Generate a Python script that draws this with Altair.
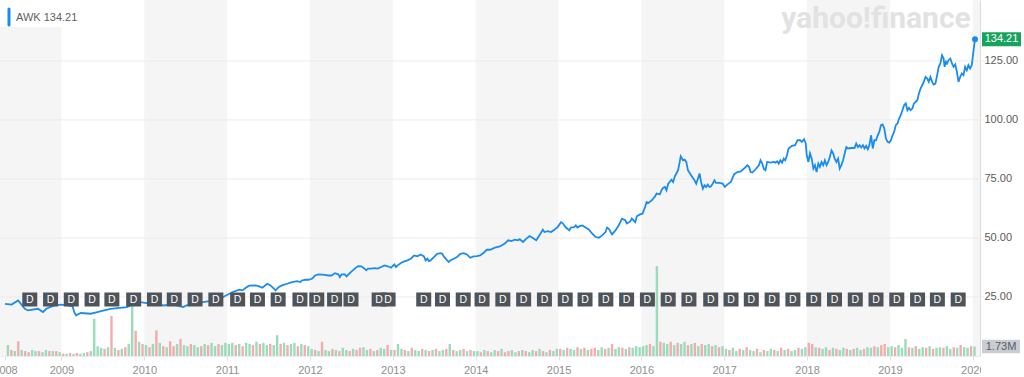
import altair as alt
import pandas as pd

# ---------------- data ----------------
# AWK weekly close, time as decimal year
price_t = [
 2008.319, 2008.399, 2008.478, 2008.558, 2008.597, 2008.717, 2008.777, 2008.817, 2008.916, 2008.996,
 2009.075, 2009.135, 2009.155, 2009.176, 2009.235, 2009.355, 2009.434, 2009.514, 2009.594, 2009.673,
 2009.792, 2009.872, 2009.952, 2010.031, 2010.150, 2010.231, 2010.311, 2010.389, 2010.469, 2010.509,
 2010.589, 2010.708, 2010.828, 2010.947, 2011.067, 2011.147,
 2011.186, 2011.226, 2011.266, 2011.345, 2011.386, 2011.425, 2011.485, 2011.524, 2011.565, 2011.584,
 2011.604, 2011.625, 2011.664, 2011.724, 2011.784, 2011.843, 2011.883, 2011.903, 2011.943, 2011.983,
 2012.023, 2012.062, 2012.103, 2012.181, 2012.222, 2012.262, 2012.301, 2012.342, 2012.361, 2012.381,
 2012.420, 2012.441, 2012.480, 2012.540, 2012.581, 2012.620, 2012.659, 2012.680, 2012.700, 2012.739,
 2012.779, 2012.819, 2012.859, 2012.898, 2012.939, 2012.978, 2013.018, 2013.038, 2013.058, 2013.098,
 2013.137, 2013.178, 2013.217, 2013.257, 2013.297, 2013.337, 2013.376, 2013.396, 2013.417, 2013.436,
 2013.456, 2013.496, 2013.536, 2013.576, 2013.596, 2013.615, 2013.656, 2013.675, 2013.695, 2013.735,
 2013.775, 2013.815, 2013.854, 2013.895, 2013.934, 2013.974, 2014.014, 2014.054, 2014.093, 2014.134,
 2014.173, 2014.233, 2014.293, 2014.352, 2014.392, 2014.432, 2014.472, 2014.511, 2014.531, 2014.571,
 2014.612, 2014.651, 2014.690, 2014.731, 2014.770, 2014.810, 2014.830, 2014.870, 2014.910, 2014.950,
 2014.989, 2015.030, 2015.049, 2015.089, 2015.108, 2015.129, 2015.149, 2015.189, 2015.209, 2015.228,
 2015.248, 2015.288, 2015.328, 2015.368, 2015.407, 2015.448, 2015.487, 2015.527, 2015.567, 2015.586,
 2015.607, 2015.646, 2015.687, 2015.726, 2015.766, 2015.806, 2015.825, 2015.866, 2015.885, 2015.926,
 2015.945, 2015.985, 2016.013, 2016.045, 2016.064, 2016.085, 2016.124, 2016.144, 2016.165, 2016.184,
 2016.224, 2016.243, 2016.264, 2016.284, 2016.303, 2016.324, 2016.363, 2016.383, 2016.404, 2016.423,
 2016.443, 2016.463, 2016.475, 2016.503, 2016.523, 2016.542, 2016.562, 2016.602, 2016.642, 2016.662,
 2016.682, 2016.702, 2016.721, 2016.742, 2016.762, 2016.781, 2016.801, 2016.822, 2016.841, 2016.861,
 2016.882, 2016.901, 2016.941, 2016.981, 2017.008, 2017.040, 2017.080,
 2017.120, 2017.160, 2017.199, 2017.240, 2017.279, 2017.300, 2017.319, 2017.339, 2017.379, 2017.419,
 2017.438, 2017.459, 2017.479, 2017.498, 2017.518, 2017.558, 2017.598, 2017.617, 2017.638, 2017.658,
 2017.677, 2017.698, 2017.718, 2017.737, 2017.757, 2017.777, 2017.817, 2017.856, 2017.885, 2017.916,
 2017.936, 2017.964, 2017.984, 2017.996, 2018.016, 2018.035, 2018.056, 2018.076, 2018.095, 2018.115,
 2018.136, 2018.155, 2018.175, 2018.196, 2018.215, 2018.235, 2018.255, 2018.275, 2018.295, 2018.315,
 2018.334, 2018.354, 2018.375, 2018.394, 2018.414, 2018.435, 2018.454, 2018.474, 2018.494, 2018.534,
 2018.573, 2018.593, 2018.614, 2018.633, 2018.653, 2018.674, 2018.693, 2018.713, 2018.733, 2018.752,
 2018.773, 2018.793, 2018.812, 2018.832, 2018.853, 2018.872, 2018.892, 2018.912, 2018.932, 2018.952,
 2018.972, 2018.991, 2019.012, 2019.032, 2019.051, 2019.071, 2019.092, 2019.111, 2019.131, 2019.151,
 2019.171, 2019.191, 2019.211, 2019.230, 2019.250, 2019.271, 2019.290, 2019.310, 2019.331, 2019.350,
 2019.370, 2019.390, 2019.409, 2019.430, 2019.450, 2019.469, 2019.489, 2019.510, 2019.529, 2019.549,
 2019.570, 2019.589, 2019.609, 2019.629, 2019.648, 2019.660, 2019.677, 2019.689, 2019.708, 2019.729,
 2019.749, 2019.768, 2019.788, 2019.808, 2019.828, 2019.848, 2019.868, 2019.888, 2019.908, 2019.928,
 2019.947, 2019.967, 2019.988, 2020.007, 2020.027,
]
price_p = [
 22.1, 21.8, 23.5, 20.0, 19.3, 20.0, 18.6, 20.0, 21.4, 21.8,
 21.4, 21.0, 18.6, 17.2, 18.2, 17.9, 18.6, 19.3, 20.0, 20.3,
 20.7, 22.1, 22.8, 22.4, 22.1, 21.4, 21.8, 21.4, 20.7, 21.4,
 21.8, 22.8, 23.5, 24.9, 27.1, 28.1,
 27.8, 28.9, 29.8, 29.9, 29.5, 28.9, 30.6, 29.9, 28.5, 27.8,
 28.5, 29.2, 29.9, 30.6, 31.3, 31.7, 31.3, 32.0, 32.3, 32.3,
 32.7, 34.1, 34.6, 34.4, 34.1, 34.1, 35.1, 34.6, 33.4, 34.6,
 34.6, 33.7, 35.1, 37.0, 38.1, 38.0, 37.0, 36.3, 37.0, 37.0,
 37.2, 37.0, 37.7, 38.4, 38.0, 37.4, 38.8, 37.7, 38.4, 39.4,
 40.1, 40.5, 41.2, 42.6, 42.2, 43.0, 42.2, 40.5, 41.2, 40.2,
 40.5, 41.9, 43.3, 43.6, 43.3, 42.2, 40.5, 39.8, 40.5, 41.2,
 41.9, 43.3, 43.6, 43.0, 41.6, 42.2, 42.3, 42.6, 43.6, 45.0,
 45.0, 45.9, 46.4, 47.6, 49.0, 48.7, 49.3, 49.0, 49.5, 48.3,
 49.7, 50.8, 50.0, 49.0, 51.1, 53.5, 52.5, 52.9, 52.5, 53.5,
 54.6, 56.7, 56.3, 54.4, 53.9, 53.2, 54.4, 54.6, 55.3, 54.4,
 54.9, 55.3, 54.4, 53.5, 51.8, 50.4, 50.1, 51.1, 52.5, 54.4,
 53.9, 51.5, 53.2, 55.3, 58.2, 57.5, 56.1, 57.0, 58.2, 56.7,
 59.2, 60.0, 60.3, 63.1, 65.2, 64.8, 65.9, 66.7, 67.6, 68.8,
 68.5, 70.2, 71.3, 71.6, 70.2, 73.0, 74.7, 73.7, 76.1, 77.3,
 78.7, 82.2, 84.6, 82.9, 83.2, 82.2, 78.7, 76.5, 74.4, 73.0,
 75.1, 77.3, 73.7, 70.9, 72.3, 71.6, 72.6, 71.6, 71.9, 73.0,
 74.4, 73.3, 73.3, 73.0, 71.6, 72.7, 73.7,
 77.0, 77.9, 78.2, 79.4, 80.8, 80.1, 77.9, 77.7, 79.1, 80.8,
 82.9, 81.5, 79.1, 78.7, 82.2, 81.9, 82.2, 81.9, 82.5, 81.5,
 82.9, 81.9, 83.6, 82.9, 85.0, 87.9, 89.0, 89.3, 91.4, 91.4,
 90.7, 91.8, 90.0, 85.0, 82.2, 85.8, 83.6, 79.4, 80.8, 77.9,
 81.5, 80.1, 82.2, 80.8, 82.9, 80.8, 82.2, 84.3, 87.1, 85.8,
 83.6, 82.2, 83.6, 79.4, 80.8, 82.9, 85.8, 88.5, 87.9, 88.1,
 88.1, 90.0, 88.5, 89.3, 88.3, 89.3, 87.9, 89.0, 87.6, 89.3,
 93.5, 87.9, 91.4, 91.4, 93.5, 94.9, 97.8, 98.1, 96.4, 92.1,
 90.7, 90.4, 91.4, 93.5, 94.9, 97.8, 98.5, 100.6, 102.0, 104.1,
 106.2, 107.0, 104.1, 105.1, 104.1, 104.8, 107.0, 107.6, 108.4, 111.2,
 113.3, 114.7, 116.1, 118.2, 117.5, 116.1, 118.2, 116.1, 115.0, 115.4,
 119.0, 122.5, 123.9, 127.4, 126.0, 122.5, 124.6, 123.9, 125.3, 126.0,
 123.9, 122.5, 123.5, 120.5, 116.1, 118.2, 119.7, 119.0, 122.5, 121.0,
 123.2, 121.8, 123.2, 128.8, 134.21,
]

# dividend ("D") event dates, decimal year
div_t = [
 2008.618, 2008.869, 2009.119, 2009.370, 2009.609, 2009.872, 2010.123, 2010.362, 2010.613, 2010.864,
 2011.127, 2011.366, 2011.616, 2011.879, 2012.082, 2012.297, 2012.495, 2012.835, 2012.943, 2013.373,
 2013.600, 2013.850, 2014.077, 2014.328, 2014.579, 2014.830, 2015.081, 2015.320, 2015.571, 2015.822,
 2016.073, 2016.324, 2016.574, 2016.837, 2017.082, 2017.327, 2017.578, 2017.829, 2018.080, 2018.331,
 2018.582, 2018.832, 2019.083, 2019.334, 2019.573, 2019.824,
]

# half-month volume (millions) and up(1)/down(0) flag, by year
vol_by_year = {
 2008: [2.0, 1.1, 0.9, 2.7, 1.1, 0.9, 0.7, 1.1, 0.9, 0.9, 0.7, 1.1, 0.9, 0.9, 0.9, 0.7],
 2009: [0.4, 0.4, 0.55, 0.4, 0.55, 0.4, 0.55, 0.7, 0.9, 6.8, 1.8, 1.5, 1.3, 1.6, 7.3, 1.5,
        1.1, 1.3, 1.6, 2.2, 9.1, 4.6, 2.6, 2.2],
 2010: [2.0, 1.6, 2.2, 4.7, 2.4, 1.8, 1.6, 2.7, 1.8, 2.2, 3.1, 2.0, 1.8, 2.2, 2.0, 1.6,
        1.8, 2.2, 2.0, 2.4, 1.8, 2.2, 2.0, 2.4],
 2011: [2.2, 2.4, 2.0, 2.2, 1.8, 2.4, 2.2, 2.0, 2.6, 2.2, 2.4, 2.0, 2.2, 2.0, 3.8, 2.2,
        2.4, 2.0, 2.2, 2.4, 1.8, 2.2, 2.0, 1.8],
 2012: [1.3, 1.1, 0.9, 2.6, 1.1, 0.9, 1.3, 1.1, 0.9, 1.5, 1.1, 0.9, 1.3, 1.1, 1.5, 1.6,
        1.1, 1.3, 0.9, 1.1, 1.5, 1.3, 2.0, 1.1],
 2013: [1.1, 2.2, 1.3, 1.1, 0.9, 1.5, 1.1, 0.9, 1.3, 1.1, 0.9, 1.1, 1.3, 0.9, 1.1, 1.3,
        2.2, 1.1, 0.9, 1.1, 1.3, 0.9, 1.1, 0.9],
 2014: [0.9, 0.7, 1.1, 0.9, 0.7, 1.1, 0.9, 1.3, 0.7, 0.9, 1.1, 0.7, 0.9, 1.1, 0.9, 0.7,
        1.1, 0.9, 1.3, 0.9, 0.7, 1.1, 0.9, 1.3],
 2015: [1.3, 1.1, 1.5, 1.3, 1.1, 1.6, 1.3, 1.5, 1.1, 1.3, 1.5, 1.1, 1.6, 1.3, 1.5, 2.2,
        1.3, 1.6, 1.5, 1.3, 1.6, 1.5, 1.8, 1.6],
 2016: [1.8, 2.0, 2.2, 1.8, 16.4, 2.6, 2.4, 2.2, 2.6, 2.0, 2.4, 2.2, 2.6, 2.0, 2.2, 2.4,
        1.8, 2.2, 2.0, 2.2, 1.8, 2.0, 1.6, 1.8],
 2017: [1.3, 1.1, 1.5, 0.9, 1.3, 1.1, 1.6, 1.1, 0.9, 1.3, 0.7, 1.1, 0.9, 1.3, 1.1, 0.9,
        1.5, 1.1, 1.3, 0.9, 1.1, 1.5, 1.3, 1.6],
 2018: [2.4, 2.2, 1.6, 1.5, 1.3, 1.6, 1.1, 1.5, 1.3, 1.1, 1.5, 1.3, 1.1, 1.3, 1.5, 1.1,
        1.3, 1.6, 1.5, 1.8, 1.6, 2.0, 2.2, 1.6],
 2019: [1.8, 1.6, 2.0, 1.5, 3.1, 1.6, 1.5, 1.8, 1.3, 1.6, 1.5, 1.8, 1.3, 1.5, 1.6, 1.5,
        1.8, 1.3, 1.6, 1.5, 2.0, 1.6, 1.5, 1.8],
 2020: [1.73],
}
up_by_year = {
 2008: [1, 0, 1, 0, 1, 0, 0, 1, 1, 0, 1, 1, 0, 1, 0, 1],
 2009: [0, 1, 0, 1, 0, 1, 1, 0, 1, 1, 1, 1, 0, 1, 0, 1, 0, 1, 0, 1, 1, 0, 1, 0],
 2010: [1, 0, 1, 0, 1, 0, 1, 0, 0, 1, 0, 1, 1, 0, 1, 1, 0, 1, 0, 1, 1, 0, 1, 1],
 2011: [1, 1, 0, 1, 0, 1, 1, 0, 1, 0, 1, 1, 0, 1, 1, 0, 1, 0, 1, 1, 0, 1, 0, 1],
 2012: [1, 0, 1, 0, 1, 1, 0, 1, 0, 1, 1, 0, 1, 0, 0, 1, 1, 0, 1, 0, 1, 1, 0, 1],
 2013: [0, 1, 1, 0, 1, 0, 1, 1, 0, 1, 0, 1, 0, 1, 1, 0, 1, 0, 1, 1, 0, 1, 0, 1],
 2014: [1, 0, 1, 0, 1, 1, 0, 1, 0, 0, 1, 1, 0, 1, 0, 1, 1, 0, 1, 0, 1, 0, 1, 1],
 2015: [0, 1, 0, 1, 1, 0, 1, 0, 1, 0, 0, 1, 1, 0, 1, 0, 1, 1, 0, 1, 0, 1, 1, 1],
 2016: [1, 1, 0, 1, 1, 0, 1, 1, 0, 1, 0, 1, 1, 0, 1, 0, 1, 0, 1, 1, 0, 1, 0, 1],
 2017: [1, 0, 1, 1, 0, 1, 0, 1, 1, 0, 1, 0, 1, 1, 0, 1, 0, 1, 0, 1, 1, 0, 1, 1],
 2018: [0, 0, 1, 0, 1, 1, 0, 1, 0, 1, 1, 0, 1, 0, 1, 1, 0, 1, 1, 0, 1, 0, 0, 1],
 2019: [1, 0, 1, 1, 1, 0, 1, 0, 1, 1, 0, 1, 0, 1, 1, 0, 1, 1, 0, 1, 0, 1, 1, 0],
 2020: [1],
}
vol_first_slot = {2008: 8}   # the 2008 series starts in the 9th half-month

y_ticks = [25, 50, 75, 100, 125]
year_ticks = [2008.319, 2009, 2010, 2011, 2012, 2013, 2014, 2015, 2016, 2017, 2018, 2019, 2020]
band_start = [2008, 2010, 2012, 2014, 2016, 2018, 2020]
band_end = [2009, 2011, 2013, 2015, 2017, 2019, 2021]

ticker = "AWK"
last_price = 134.21
last_vol = 1.73

X_DOMAIN = [2008.319, 2020.027]
Y_DOMAIN = [0, 150.8]
V_DOMAIN = [0, 65]

W, H = 980, 356
FONT = "Helvetica Neue, Helvetica, Arial, Liberation Sans, sans-serif"
BLUE = "#1a8cf0"

# ---------------- tables ----------------
price_df = pd.DataFrame({"t": price_t, "p": price_p})
div_df = pd.DataFrame({"t": div_t, "lbl": ["D"] * len(div_t)})
bands_df = pd.DataFrame({"s": band_start, "e": band_end})
grid_df = pd.DataFrame({"p": y_ticks})

vt, vv, vu = [], [], []
for y in sorted(vol_by_year):
    k0 = vol_first_slot.get(y, 0)
    for i, (v, u) in enumerate(zip(vol_by_year[y], up_by_year[y])):
        vt.append(y + (k0 + i + 0.5) / 24.0)
        vv.append(v)
        vu.append("up" if u else "down")
vol_df = pd.DataFrame({"t": vt, "v": vv, "dir": vu})

last_df = pd.DataFrame({"t": [price_t[-1]], "p": [last_price], "v": [last_vol],
                        "ptxt": [f"{last_price:.2f}"], "vtxt": [f"{last_vol:.2f}M"],
                        "legend": [f"{ticker} {last_price:.2f}"],
                        "wm": ["yahoo!finance"]})

xs = alt.Scale(domain=X_DOMAIN, nice=False, zero=False)
ys = alt.Scale(domain=Y_DOMAIN, nice=False, zero=False)
vs = alt.Scale(domain=V_DOMAIN, nice=False, zero=False)

X_AXIS = alt.Axis(
    title=None, values=year_ticks, labelExpr="'' + floor(datum.value)",
    labelFlush=False, labelOverlap=False, labelFont=FONT, labelFontSize=11,
    labelColor="#8f8f8f", labelPadding=4, tickColor="#e0e0e0", tickSize=4,
    domainColor="#ececec", grid=False,
)
Y_AXIS = alt.Axis(
    title=None, orient="right", values=y_ticks, format=".2f", grid=False,
    labelFont=FONT, labelFontSize=11, labelColor="#5b5b5b", labelPadding=4,
    ticks=False, domainColor="#dcdcdc",
)

def X(field):
    return alt.X(field, type="quantitative", scale=xs, axis=X_AXIS)

bands = alt.Chart(bands_df).mark_rect(color="#f5f5f5", clip=True).encode(
    x=X("s"), x2="e", y=alt.value(0), y2=alt.value(H))

grid = alt.Chart(grid_df).mark_rule(color="#ececec", strokeWidth=1).encode(
    y=alt.Y("p:Q", scale=ys, axis=None), x=alt.value(0), x2=alt.value(W + 4))

vol = alt.Chart(vol_df).mark_bar(width=2.4, opacity=0.9).encode(
    x=X("t"),
    y=alt.Y("v:Q", scale=vs, axis=None),
    color=alt.Color("dir:N", scale=alt.Scale(domain=["up", "down"], range=["#8fd8b6", "#f5a3a3"]), legend=None),
)

line = alt.Chart(price_df).mark_line(color=BLUE, strokeWidth=1.8, interpolate="linear").encode(
    x=X("t"), y=alt.Y("p:Q", scale=ys, axis=Y_AXIS))

box_path = "M-1,-0.933L1,-0.933L1,0.933L-1,0.933Z"
div_box = alt.Chart(div_df).mark_point(shape=box_path, size=225, filled=True, color="#4e545a", opacity=1).encode(
    x=X("t"), y=alt.value(299.5))
div_txt = alt.Chart(div_df).mark_text(color="white", fontSize=10.5, font=FONT, align="center", baseline="middle").encode(
    x=X("t"), y=alt.value(300), text="lbl:N")

end_dot = alt.Chart(last_df).mark_point(filled=True, size=36, color=BLUE, opacity=1).encode(
    x=X("t"), y=alt.Y("p:Q", scale=ys, axis=None))

price_box = alt.Chart(last_df).mark_point(shape="M-1,-0.36L1,-0.36L1,0.36L-1,0.36Z", size=39 * 39,
                                          filled=True, color="#17a35d", opacity=1).encode(
    x=alt.value(1001.5), y=alt.Y("p:Q", scale=ys, axis=None))
price_txt = alt.Chart(last_df).mark_text(color="white", fontSize=11, font=FONT, align="center", baseline="middle").encode(
    x=alt.value(1001.5), y=alt.Y("p:Q", scale=ys, axis=None), text="ptxt:N")

vol_box = alt.Chart(last_df).mark_point(shape="M-1,-0.36L1,-0.36L1,0.36L-1,0.36Z", size=38 * 38,
                                        filled=True, color="#c9cdd3", opacity=1).encode(
    x=alt.value(1001), y=alt.Y("v:Q", scale=vs, axis=None))
vol_txt = alt.Chart(last_df).mark_text(color="#555b61", fontSize=11, font=FONT, align="center", baseline="middle").encode(
    x=alt.value(1001), y=alt.Y("v:Q", scale=vs, axis=None), text="vtxt:N")

legend_bg = alt.Chart(last_df).mark_rect(color="white").encode(
    x=alt.value(0), x2=alt.value(76), y=alt.value(0), y2=alt.value(27))
legend_bar = alt.Chart(last_df).mark_rule(color=BLUE, strokeWidth=3, strokeCap="round").encode(
    x=alt.value(9), y=alt.value(9), y2=alt.value(25))
legend_txt = alt.Chart(last_df).mark_text(color="#5f5f5f", fontSize=11, font=FONT, align="left", baseline="middle").encode(
    x=alt.value(16), y=alt.value(18), text="legend:N")

watermark = alt.Chart(last_df).mark_text(color="#e2e2e2", fontSize=30, fontWeight="bold", font="Roboto",
                                         align="center", baseline="alphabetic").encode(
    x=alt.value(876), y=alt.value(28), text="wm:N")

edge_cover = alt.Chart(last_df).mark_rect(color="white").encode(
    x=alt.value(W + 1), x2=alt.value(W + 50), y=alt.value(H + 3), y2=alt.value(H + 30))

chart = alt.layer(
    bands, grid, watermark, vol, line, div_box, div_txt, end_dot,
    price_box, price_txt, vol_box, vol_txt, legend_bg, legend_bar, legend_txt, edge_cover,
).resolve_scale(y="independent").properties(
    width=W, height=H,
    autosize=alt.AutoSizeParams(type="none"),
    padding={"left": 0, "top": 0, "right": 44, "bottom": 21},
).configure_view(stroke=None)

chart.save("out.html", embed_options={"renderer": "svg", "actions": False})
